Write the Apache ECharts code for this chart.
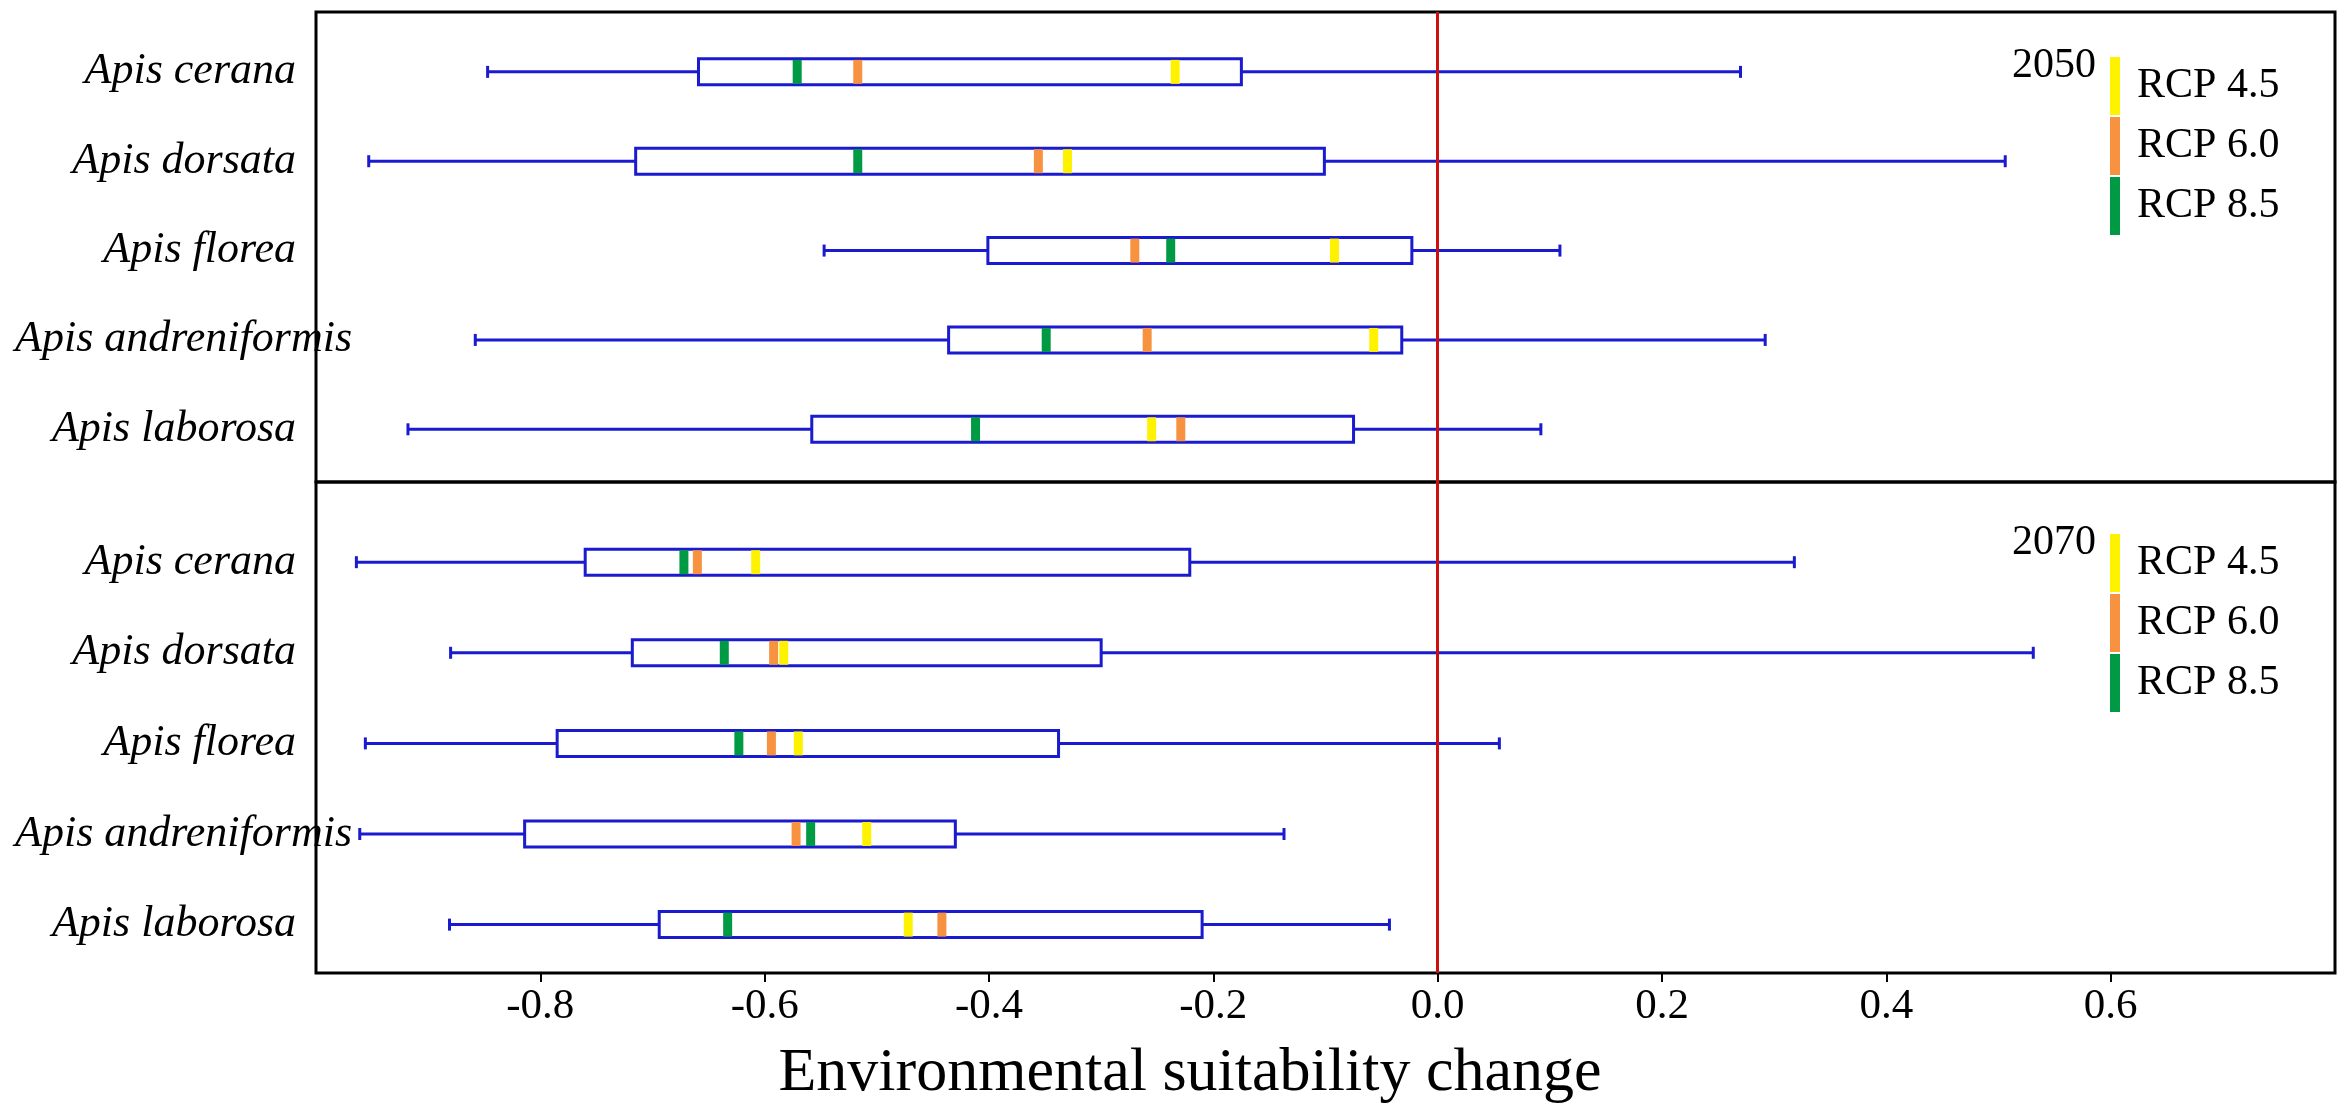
<!DOCTYPE html>
<html>
<head>
<meta charset="utf-8">
<title>Environmental suitability change</title>
<script src="https://cdn.jsdelivr.net/npm/echarts@6/dist/echarts.min.js"></script>
<style>
  html, body { margin: 0; padding: 0; background: #fff; }
  #chart { width: 2350px; height: 1112px; }
</style>
</head>
<body>
<div id="chart"></div>
<script>
// species, top to bottom
const species = ['Apis cerana', 'Apis dorsata', 'Apis florea', 'Apis andreniformis', 'Apis laborosa']
const years = ['2050', '2070']
const rcpNames = ['RCP 4.5', 'RCP 6.0', 'RCP 8.5']
const rcpColors = ['#FFF200', '#F79240', '#009A44']
const xTicks = [-0.8, -0.6, -0.4, -0.2, 0.0, 0.2, 0.4, 0.6]

// [whisker low, box low, box high, whisker high]
const box2050 = [
  [-0.847, -0.659, -0.175, 0.270],
  [-0.953, -0.715, -0.101, 0.506],
  [-0.547, -0.401, -0.023, 0.109],
  [-0.858, -0.436, -0.032, 0.292],
  [-0.918, -0.558, -0.075, 0.092]
]
const box2070 = [
  [-0.964, -0.760, -0.221, 0.318],
  [-0.880, -0.718, -0.300, 0.531],
  [-0.956, -0.785, -0.338, 0.055],
  [-0.961, -0.814, -0.430, -0.137],
  [-0.881, -0.694, -0.210, -0.043]
]

// median marks per scenario
const rcp45_2050 = [-0.234, -0.330, -0.092, -0.057, -0.255]
const rcp60_2050 = [-0.517, -0.356, -0.270, -0.259, -0.229]
const rcp85_2050 = [-0.571, -0.517, -0.238, -0.349, -0.412]
const rcp45_2070 = [-0.608, -0.583, -0.570, -0.509, -0.472]
const rcp60_2070 = [-0.660, -0.592, -0.594, -0.572, -0.442]
const rcp85_2070 = [-0.672, -0.636, -0.623, -0.559, -0.633]

const BLUE = '#1a1acf'
const FONT = '"Liberation Serif", "Times New Roman", serif'

function renderBox (params, api) {
  const y = api.value(0)
  const lo = api.coord([api.value(1), y])
  const q1 = api.coord([api.value(2), y])
  const q3 = api.coord([api.value(3), y])
  const hi = api.coord([api.value(4), y])
  const cy = lo[1]
  const h = 26
  const cap = 12
  const st = { stroke: BLUE, lineWidth: 3 }
  return {
    type: 'group',
    children: [
      { type: 'line', shape: { x1: lo[0], y1: cy, x2: q1[0], y2: cy }, style: st },
      { type: 'line', shape: { x1: q3[0], y1: cy, x2: hi[0], y2: cy }, style: st },
      { type: 'line', shape: { x1: lo[0], y1: cy - cap / 2, x2: lo[0], y2: cy + cap / 2 }, style: st },
      { type: 'line', shape: { x1: hi[0], y1: cy - cap / 2, x2: hi[0], y2: cy + cap / 2 }, style: st },
      { type: 'rect', shape: { x: q1[0], y: cy - h / 2, width: q3[0] - q1[0], height: h }, style: { fill: '#fff', stroke: BLUE, lineWidth: 3 } }
    ]
  }
}

function renderMark (params, api) {
  const p = api.coord([api.value(1), api.value(0)])
  return {
    type: 'rect',
    shape: { x: p[0] - 4.5, y: p[1] - 12, width: 9, height: 24 },
    style: { fill: api.visual('color') }
  }
}

function boxSeries (rows, idx) {
  return {
    type: 'custom',
    name: 'box' + years[idx],
    xAxisIndex: idx,
    yAxisIndex: idx * 2,
    renderItem: renderBox,
    encode: { x: [1, 2, 3, 4], y: 0 },
    data: rows.map((r, i) => [i].concat(r)),
    z: 2
  }
}

function markSeries (vals, name, color, idx, withZero) {
  const s = {
    type: 'custom',
    name: name,
    xAxisIndex: idx,
    yAxisIndex: idx * 2,
    renderItem: renderMark,
    encode: { x: 1, y: 0 },
    itemStyle: { color: color },
    data: vals.map((v, i) => [i, v]),
    z: 3
  }
  if (withZero) {
    s.markLine = {
      silent: true,
      symbol: ['none', 'none'],
      label: { show: false },
      lineStyle: { color: '#cc1010', width: 3, type: 'solid' },
      data: [{ xAxis: 0 }]
    }
  }
  return s
}

// labels right-aligned at the frame; the long name spills over it as in the source
function yAxis (grid, min, max, rows, margin) {
  return {
    type: 'value',
    gridIndex: grid,
    position: 'left',
    offset: 0,
    inverse: true,
    min: min,
    max: max,
    axisLine: { show: false },
    axisTick: { show: false },
    splitLine: { show: false },
    axisLabel: {
      customValues: rows,
      formatter: v => species[Math.round(v)],
      fontFamily: FONT,
      fontStyle: 'italic',
      fontSize: 44,
      color: '#000',
      margin: margin
    }
  }
}

function legend (top) {
  return {
    orient: 'vertical',
    left: 2105,
    top: top,
    icon: 'rect',
    itemWidth: 10,
    itemHeight: 58,
    itemGap: 2,
    selectedMode: false,
    data: rcpNames,
    textStyle: { fontFamily: FONT, fontSize: 42, color: '#000', padding: [0, 0, 0, 12] }
  }
}

const chart = echarts.init(document.getElementById('chart'))

chart.setOption({
  animation: false,
  backgroundColor: '#fff',
  grid: [
    { left: 316, width: 2019, top: 12, height: 470, show: true, borderColor: '#000', borderWidth: 3, outerBoundsMode: 'none' },
    { left: 316, width: 2019, top: 482, height: 491, show: true, borderColor: '#000', borderWidth: 3, outerBoundsMode: 'none' }
  ],
  xAxis: [
    {
      type: 'value', gridIndex: 0, min: -1, max: 0.8,
      axisLine: { show: false, onZero: false }, axisTick: { show: false },
      axisLabel: { show: false }, splitLine: { show: false }
    },
    {
      type: 'value', gridIndex: 1, min: -1, max: 0.8,
      position: 'bottom',
      axisLine: { show: false, onZero: false },
      splitLine: { show: false },
      axisTick: { show: true, customValues: xTicks, length: 9, lineStyle: { color: '#000', width: 2 } },
      axisLabel: {
        customValues: xTicks,
        formatter: v => v.toFixed(1),
        fontFamily: FONT,
        fontSize: 43,
        color: '#000',
        margin: 12
      }
    }
  ],
  yAxis: [
    yAxis(0, -0.67, 4.59, [0, 1, 2, 4], 20),
    yAxis(0, -0.67, 4.59, [3], -36),
    yAxis(1, -0.885, 4.534, [0, 1, 2, 4], 20),
    yAxis(1, -0.885, 4.534, [3], -36)
  ],
  legend: [legend(52), legend(529)],
  graphic: [
    { type: 'text', x: 2096, y: 66, style: { text: years[0], font: '42px ' + FONT, fill: '#000', textAlign: 'right', textVerticalAlign: 'middle' } },
    { type: 'text', x: 2096, y: 543, style: { text: years[1], font: '42px ' + FONT, fill: '#000', textAlign: 'right', textVerticalAlign: 'middle' } },
    { type: 'text', x: 1190, y: 1074, style: { text: 'Environmental suitability change', font: '62px ' + FONT, fill: '#000', textAlign: 'center', textVerticalAlign: 'middle' } }
  ],
  series: [
    boxSeries(box2050, 0),
    markSeries(rcp45_2050, rcpNames[0], rcpColors[0], 0, true),
    markSeries(rcp60_2050, rcpNames[1], rcpColors[1], 0, false),
    markSeries(rcp85_2050, rcpNames[2], rcpColors[2], 0, false),
    boxSeries(box2070, 1),
    markSeries(rcp45_2070, rcpNames[0], rcpColors[0], 1, true),
    markSeries(rcp60_2070, rcpNames[1], rcpColors[1], 1, false),
    markSeries(rcp85_2070, rcpNames[2], rcpColors[2], 1, false)
  ]
})
</script>
</body>
</html>
